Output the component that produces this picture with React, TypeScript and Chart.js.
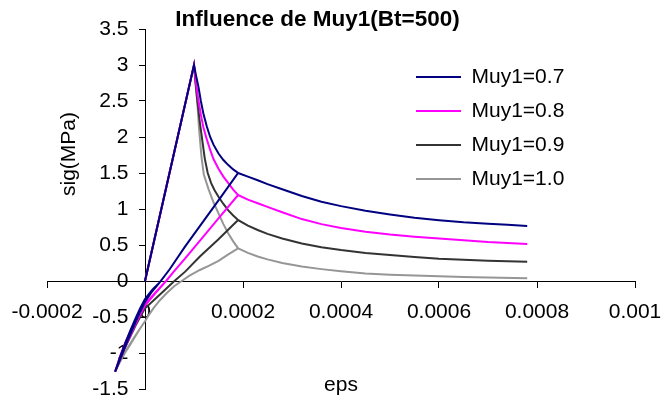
import React, { useEffect, useRef } from 'react';
import { Chart, registerables } from 'chart.js';

Chart.register(...registerables);

const chartTitle = 'Influence de Muy1(Bt=500)';
const xAxisTitle = 'eps';
const yAxisTitle = 'sig(MPa)';

const seriesLabels = ['Muy1=0.7', 'Muy1=0.8', 'Muy1=0.9', 'Muy1=1.0'];
const seriesColors = ['#000080', '#FF00FF', '#333333', '#969696'];

const xTickLabels = ['-0.0002', '0', '0.0002', '0.0004', '0.0006', '0.0008', '0.001'];
const yTickLabels = ['-1.5', '-1', '-0.5', '0', '0.5', '1', '1.5', '2', '2.5', '3', '3.5'];

// Muy1 = 0.7 : load -> peak -> softening -> unload -> reload -> softening
const eps07 = [
  0, 0.0001,
  0.000104, 0.000109, 0.000114, 0.000119, 0.000126, 0.000133, 0.00014, 0.00015, 0.00016, 0.00017, 0.00018, 0.00019,
  0.00015, 0.000082, 0.00005, 0.00003, 0.000014, 0, -0.00001, -0.00002, -0.00003, -0.000041, -0.00005, -0.000061,
  -0.00005, -0.00004, -0.00003, -0.00002, -0.00001, 0, 0.000015, 0.00003, 0.00005, 0.000082, 0.00015, 0.00019,
  0.00021, 0.00023, 0.00025, 0.00028, 0.00032, 0.00036, 0.0004, 0.00045, 0.0005, 0.00055, 0.0006, 0.00065, 0.0007, 0.00074, 0.00078,
];
const sig07 = [
  0, 3,
  2.86, 2.7, 2.5, 2.33, 2.15, 2.0, 1.89, 1.77, 1.68, 1.61, 1.55, 1.5,
  1.12, 0.48, 0.16, -0.02, -0.15, -0.29, -0.43, -0.58, -0.74, -0.92, -1.07, -1.26,
  -1.04, -0.86, -0.69, -0.53, -0.38, -0.25, -0.12, -0.02, 0.16, 0.48, 1.12, 1.5,
  1.45, 1.4, 1.345, 1.275, 1.18, 1.1, 1.04, 0.975, 0.925, 0.88, 0.845, 0.815, 0.795, 0.78, 0.765,
];

// Muy1 = 0.8
const eps08 = [
  0, 0.0001,
  0.000104, 0.000109, 0.000114, 0.000119, 0.000126, 0.000133, 0.00014, 0.00015, 0.00016, 0.00017, 0.00018, 0.00019,
  0.00015, 0.000082, 0.00006, 0.000043, 0.00002, 0, -0.00001, -0.00002, -0.00003, -0.000041, -0.00005, -0.000061,
  -0.00005, -0.00004, -0.00003, -0.00002, -0.00001, 0, 0.00002, 0.000043, 0.00006, 0.000082, 0.00015, 0.00019,
  0.00021, 0.00023, 0.00025, 0.00028, 0.00032, 0.00036, 0.0004, 0.00045, 0.0005, 0.00055, 0.0006, 0.00065, 0.0007, 0.00078,
];
const sig08 = [
  0, 3,
  2.75, 2.51, 2.31, 2.14, 1.97, 1.82, 1.69, 1.56, 1.45, 1.36, 1.27, 1.194,
  0.87, 0.315, 0.14, 0, -0.18, -0.34, -0.47, -0.61, -0.76, -0.92, -1.07, -1.26,
  -1.03, -0.85, -0.7, -0.56, -0.43, -0.32, -0.17, 0, 0.14, 0.315, 0.87, 1.194,
  1.13, 1.08, 1.03, 0.955, 0.86, 0.79, 0.735, 0.685, 0.645, 0.615, 0.59, 0.565, 0.54, 0.514,
];

// Muy1 = 0.9
const eps09 = [
  0, 0.0001,
  0.000103, 0.000106, 0.000109, 0.000112, 0.000116, 0.000122, 0.000128, 0.000135, 0.000142, 0.00015, 0.00016, 0.00017, 0.00018, 0.00019,
  0.00015, 0.000112, 0.000082, 0.00006, 0.00003, 0, -0.00001, -0.00002, -0.00003, -0.000041, -0.00005, -0.000061,
  -0.00005, -0.00004, -0.00003, -0.00002, -0.00001, 0, 0.00003, 0.00006, 0.000082, 0.000112, 0.00015, 0.00019,
  0.00021, 0.00023, 0.00025, 0.00028, 0.00032, 0.00036, 0.0004, 0.00045, 0.0005, 0.00055, 0.0006, 0.00065, 0.0007, 0.00078,
];
const sig09 = [
  0, 3,
  2.75, 2.55, 2.375, 2.2, 2.0, 1.7, 1.5, 1.36, 1.26, 1.17, 1.07, 0.98, 0.91, 0.847,
  0.58, 0.34, 0.13, 0, -0.19, -0.38, -0.5, -0.63, -0.77, -0.93, -1.08, -1.26,
  -1.06, -0.9, -0.75, -0.61, -0.49, -0.38, -0.19, 0, 0.13, 0.34, 0.58, 0.847,
  0.77, 0.708, 0.655, 0.59, 0.52, 0.47, 0.43, 0.39, 0.36, 0.335, 0.31, 0.295, 0.28, 0.268,
];

// Muy1 = 1.0
const eps10 = [
  0, 0.0001,
  0.000103, 0.0001055, 0.000108, 0.00011, 0.000113, 0.0001157, 0.00012, 0.00013, 0.00014, 0.00015, 0.00016, 0.00017, 0.00018, 0.00019,
  0.00017, 0.00015, 0.00013, 0.000112, 0.00009, 0.000075, 0.00006, 0.000044, 0.00003, 0.000017, 0.000008, 0, -0.00001, -0.00002, -0.00003, -0.000041, -0.00005, -0.000061,
  -0.00005, -0.000041, -0.00003, -0.00002, -0.00001, 0, 0.000008, 0.000017, 0.00003, 0.000044, 0.00006, 0.000075, 0.00009, 0.000112, 0.00013, 0.00015, 0.00017, 0.00019,
  0.00021, 0.00023, 0.00025, 0.00028, 0.00032, 0.00036, 0.0004, 0.00045, 0.0005, 0.00055, 0.0006, 0.00065, 0.0007, 0.00078,
];
const sig10 = [
  0, 3,
  2.8, 2.6, 2.36, 2.14, 1.9, 1.7, 1.48, 1.27, 1.09, 0.94, 0.79, 0.66, 0.55, 0.454,
  0.37, 0.28, 0.21, 0.153, 0.07, 0, -0.07, -0.17, -0.27, -0.38, -0.47, -0.56, -0.66, -0.77, -0.88, -1.0, -1.11, -1.26,
  -1.1, -0.99, -0.87, -0.76, -0.66, -0.56, -0.47, -0.38, -0.27, -0.17, -0.07, 0, 0.07, 0.153, 0.21, 0.28, 0.37, 0.454,
  0.39, 0.34, 0.3, 0.25, 0.2, 0.165, 0.135, 0.105, 0.088, 0.075, 0.065, 0.055, 0.047, 0.037,
];

const seriesEps = [eps07, eps08, eps09, eps10];
const seriesSig = [sig07, sig08, sig09, sig10];

const FONT = "'Liberation Sans', Arial, Helvetica, sans-serif";

const placePlugin = {
  id: 'placeExtras',
  afterLayout(chart: any) {
    const lg = chart.legend;
    if (lg) {
      lg.left = 403;
      lg.top = 53.5;
      lg.right = 662;
      lg.bottom = 260;
    }
    const yt = chart.scales.yTitle;
    if (yt) {
      yt.top = 29;
      yt.bottom = 279;
    }
    const yl = chart.scales.yLabels;
    if (yl) {
      yl.left = 0;
      yl.right = 140;
    }
  },
};

export default function App() {
  const ref = useRef<HTMLCanvasElement | null>(null);

  useEffect(() => {
    if (!ref.current) return;
    const datasets = seriesLabels.map((label, i) => ({
      label,
      data: seriesEps[i].map((x, j) => ({ x, y: seriesSig[i][j] })),
      borderColor: seriesColors[i],
      backgroundColor: seriesColors[i],
      borderWidth: 2,
      pointRadius: 0,
      pointHoverRadius: 0,
      showLine: true,
      tension: 0,
      xAxisID: 'x',
      yAxisID: 'y',
    }));

    const tickFont = { family: FONT, size: 21 };

    const chart = new Chart(ref.current, {
      type: 'scatter',
      data: { datasets },
      plugins: [placePlugin],
      options: {
        animation: false,
        responsive: false,
        maintainAspectRatio: false,
        events: [],
        layout: { autoPadding: false, padding: { left: 0, right: 27, top: 0, bottom: 0 } },
        plugins: {
          title: {
            display: true,
            text: chartTitle,
            color: '#000',
            font: { family: FONT, size: 22.5, weight: 'bold' },
            padding: { top: 6.5, bottom: -4.5 },
          },
          legend: {
            position: 'chartArea',
            align: 'start',
            labels: {
              usePointStyle: true,
              pointStyle: 'line',
              pointStyleWidth: 45,
              color: '#000',
              font: tickFont,
              padding: 13,
            },
          },
          tooltip: { enabled: false },
        },
        scales: {
          x: {
            type: 'linear',
            position: { y: 0 },
            min: -0.0002,
            max: 0.001,
            afterFit: (s: any) => {
              s.height = 0;
              s.paddingLeft = 0;
              s.paddingRight = 0;
            },
            ticks: {
              stepSize: 0.0002,
              autoSkip: false,
              maxRotation: 0,
              minRotation: 0,
              color: '#000',
              font: tickFont,
              padding: 13,
              callback: (_v: any, i: number) => xTickLabels[i],
            },
            grid: { drawOnChartArea: false, drawTicks: true, tickLength: 6, color: '#000', lineWidth: 1 },
            border: { display: true, color: '#000', width: 1 },
          },
          y: {
            type: 'linear',
            position: { x: 0 },
            min: -1.5,
            max: 3.5,
            afterFit: (s: any) => {
              s.width = 0;
              s.paddingTop = 0;
              s.paddingBottom = 0;
            },
            ticks: { stepSize: 0.5, autoSkip: false, display: false },
            grid: { drawOnChartArea: false, drawTicks: true, tickLength: 6, color: '#000', lineWidth: 1 },
            border: { display: true, color: '#000', width: 1 },
          },
          yLabels: {
            type: 'linear',
            axis: 'y',
            position: 'left',
            weight: 0,
            min: -1.5,
            max: 3.5,
            afterFit: (s: any) => {
              s.width = 0;
              s.paddingTop = 0;
              s.paddingBottom = 0;
            },
            ticks: {
              stepSize: 0.5,
              autoSkip: false,
              color: '#000',
              font: tickFont,
              padding: 11.5,
              callback: (_v: any, i: number) => yTickLabels[i],
            },
            grid: { display: false, drawTicks: false },
            border: { display: false },
          },
          xTitle: {
            type: 'linear',
            axis: 'x',
            position: 'bottom',
            ticks: { display: false },
            grid: { display: false, drawTicks: false },
            border: { display: false },
            title: { display: true, text: xAxisTitle, color: '#000', font: tickFont, padding: { top: 0, bottom: 7 } },
            afterFit: (s: any) => {
              s.height = 16;
              s.paddingLeft = 0;
              s.paddingRight = 0;
            },
          },
          yTitle: {
            type: 'linear',
            axis: 'y',
            position: 'left',
            weight: 1,
            ticks: { display: false },
            grid: { display: false, drawTicks: false },
            border: { display: false },
            title: { display: true, text: yAxisTitle, color: '#000', font: tickFont, padding: { top: 56.9, bottom: 0 } },
            afterFit: (s: any) => {
              s.width = 47;
              s.paddingTop = 0;
              s.paddingBottom = 0;
            },
          },
        },
      } as any,
    });
    return () => chart.destroy();
  }, []);

  return (
    <div style={{ position: 'fixed', left: 0, top: 0, width: 662, height: 405, background: '#fff' }}>
      <canvas ref={ref} width={662} height={405} style={{ display: 'block' }} />
    </div>
  );
}
